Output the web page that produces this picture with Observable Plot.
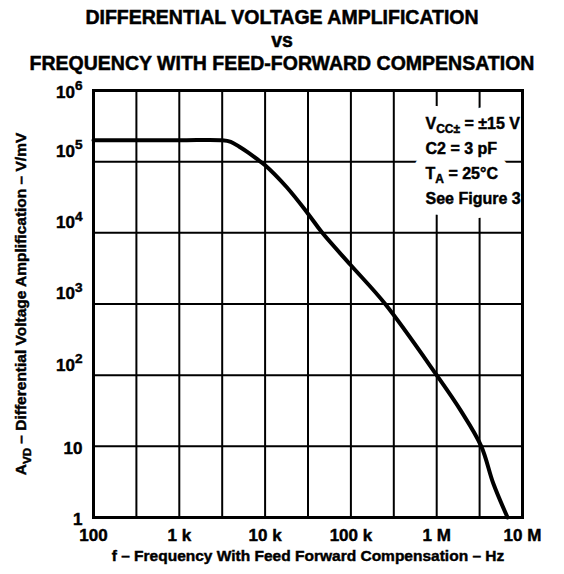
<!DOCTYPE html>
<html><head><meta charset="utf-8">
<script src="https://cdn.jsdelivr.net/npm/d3@7"></script>
<script src="https://cdn.jsdelivr.net/npm/@observablehq/plot@0.6"></script>
<style>
body{margin:0;background:#fff;}
#wrap{position:relative;width:564px;height:574px;font-family:"Liberation Sans",Arial,sans-serif;}
#wrap svg{display:block;}
#title{position:absolute;top:6px;left:0;width:564px;text-align:center;font-weight:bold;font-size:19.5px;line-height:23px;color:#000;-webkit-text-stroke:0.5px #000;}
</style></head><body>
<div id="wrap"></div>
<script>
// Curve values
const freqHz = [100, 1000, 3162, 3981, 5012, 6310, 7943, 10000, 17783, 31623, 46416, 100000, 251189, 1000000, 1900000, 3310000, 4570000, 6700000];
const avdVmV = [200000, 200000, 200000, 190000, 162000, 135000, 110000, 89000, 44000, 18600, 10000, 3500, 1000, 100, 32, 10, 3.0, 1];

const xTicks = [100, 1e3, 1e4, 1e5, 1e6, 1e7];
const xTickLabels = ["100", "1 k", "10 k", "100 k", "1 M", "10 M"];
const xGrid = [100, 316.2, 1000, 3162, 10000, 31623, 100000, 316228, 1000000, 3162278, 10000000];
const yTicks = [1, 10, 100, 1000, 10000, 100000, 1000000];
const yTickLabels = ["1", "10", "10^{2}", "10^{3}", "10^{4}", "10^{5}", "10^{6}"];
const notes = ["V_{CC±} = ±15 V", "C2 = 3 pF", "T_{A} = 25°C", "See Figure 3"];
const titleLines = ["DIFFERENTIAL VOLTAGE AMPLIFICATION", "vs", "FREQUENCY WITH FEED-FORWARD COMPENSATION"];
const xLabel = "f – Frequency With Feed Forward Compensation – Hz";
const yLabel = "A_{VD} – Differential Voltage Amplification – V/mV";

const data = freqHz.map((f, i) => ({f, a: avdVmV[i]}));
const xLab = new Map(xTicks.map((v, i) => [v, xTickLabels[i]]));
const yLab = new Map(yTicks.map((v, i) => [v, yTickLabels[i]]));

const FONT = '"Liberation Sans", Arial, sans-serif';
const noteOpts = i => ({frameAnchor: "top-left", dx: 332, dy: 38 + i * 25, lineAnchor: "bottom", textAnchor: "start", fontSize: 16});

const plot = Plot.plot({
  width: 564, height: 574,
  marginTop: 90, marginRight: 42, marginBottom: 57, marginLeft: 93,
  style: {fontFamily: FONT, fontWeight: "bold", background: "white", color: "black"},
  x: {type: "log", domain: [100, 1e7], axis: null},
  y: {type: "log", domain: [1, 1e6], axis: null},
  marks: [
    Plot.ruleX(xGrid, {stroke: "black", strokeWidth: 2}),
    Plot.ruleY(yTicks, {stroke: "black", strokeWidth: 2}),
    // white knock-out behind the notes
    ...notes.map((s, i) => Plot.text([s], {...noteOpts(i), fill: "white", stroke: "white", strokeWidth: 22, strokeLinejoin: "round", ariaDescription: "halo"})),
    ...notes.map((s, i) => Plot.text([s], {...noteOpts(i), fill: "black"})),
    Plot.line(data, {x: "f", y: "a", stroke: "black", strokeWidth: 4, curve: "catmull-rom"}),
    Plot.frame({stroke: "black", strokeWidth: 3}),
    Plot.axisX(xTicks, {anchor: "bottom", tickSize: 0, tickPadding: 11, fontSize: 17, label: null, tickFormat: d => xLab.get(d)}),
    Plot.axisY(yTicks.filter(d => d >= 100 && d < 1e6), {anchor: "left", tickSize: 0, tickPadding: 11, fontSize: 17, dy: -10, label: null, tickFormat: d => yLab.get(d)}),
    Plot.axisY(yTicks.filter(d => d < 100 || d >= 1e6), {anchor: "left", tickSize: 0, tickPadding: 11, fontSize: 17, dy: 2, label: null, tickFormat: d => yLab.get(d)}),
    Plot.text([yLabel], {frameAnchor: "left", dx: -72, rotate: -90, textAnchor: "middle", fontSize: 15.5, fill: "black"}),
    Plot.text([xLabel], {frameAnchor: "bottom", dy: 43, fontSize: 15.5, fill: "black"})
  ]
});

const wrap = document.getElementById("wrap");
wrap.appendChild(plot);
const title = document.createElement("div");
title.id = "title";
title.innerHTML = titleLines.join("<br>");
wrap.appendChild(title);

function richify(svg) {
  svg.querySelectorAll("text").forEach(t => {
    const s = t.textContent;
    if (!/[_^]\{/.test(s) || t.querySelector("tspan")) return;
    const fs = parseFloat(getComputedStyle(t).fontSize) || 15;
    t.textContent = "";
    const re = /([_^])\{([^}]*)\}|([^_^]+)/g;
    let m, shift = 0;
    while ((m = re.exec(s))) {
      const ts = document.createElementNS("http://www.w3.org/2000/svg", "tspan");
      let d;
      if (m[1]) {
        const sup = m[1] === "^";
        const target = sup ? -0.45 * fs : 0.28 * fs;
        d = target - shift; shift = target;
        ts.setAttribute("font-size", (sup ? 0.8 : 0.75) * fs);
        ts.textContent = m[2];
      } else {
        d = -shift; shift = 0;
        ts.textContent = m[3];
      }
      if (d !== 0) ts.setAttribute("dy", d);
      t.appendChild(ts);
    }
  });
}
richify(plot);

// thicken the visible texts a little, like the scanned original (not the knock-out layer)
const haloGroups = Array.from(plot.querySelectorAll("g")).filter(g => g.getAttribute("aria-description") === "halo");
plot.querySelectorAll("text").forEach(t => {
  if (!haloGroups.some(g => g.contains(t))) {
    t.setAttribute("stroke", "black");
    t.setAttribute("stroke-width", "0.45");
  }
});
</script>
</body></html>
